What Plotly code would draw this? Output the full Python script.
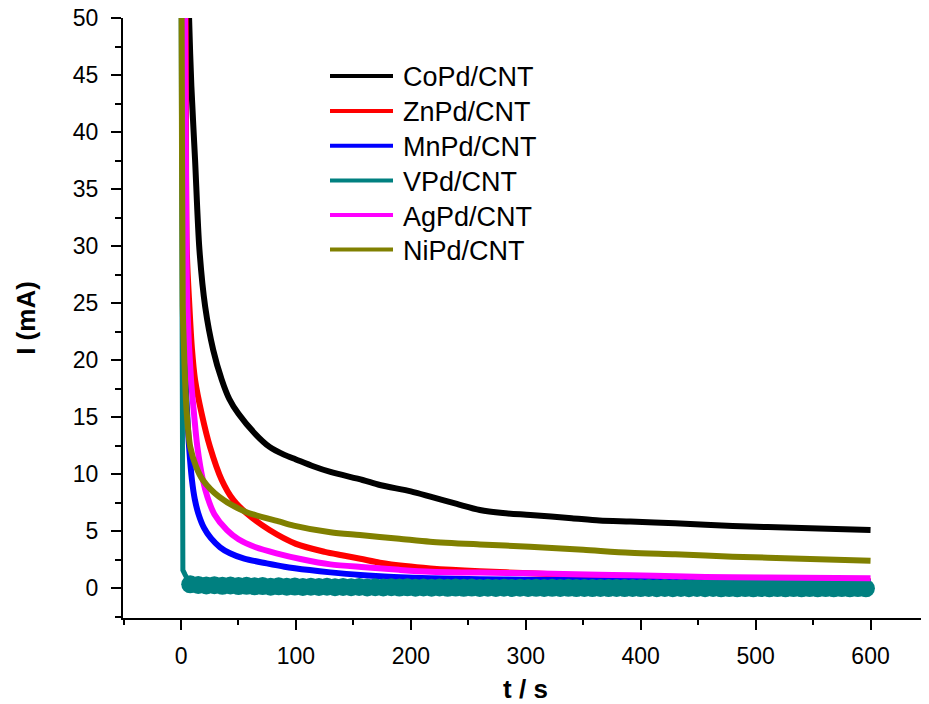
import plotly.graph_objects as go

# ---- data ----
series_names = ["CoPd/CNT", "ZnPd/CNT", "MnPd/CNT", "VPd/CNT", "AgPd/CNT", "NiPd/CNT"]
series_colors = ["#000000", "#FF0000", "#0000FF", "#008080", "#FF00FF", "#808000"]

copd_t = [6, 7, 9, 12.2, 16, 21, 28, 35.4, 42, 50, 64, 77, 90, 100, 115, 130, 158, 173, 200, 217, 240, 260, 280, 304, 340, 364, 391, 430, 480, 540, 600]
copd_i = [55, 50, 44, 37.6, 29.7, 24.7, 20.9, 18.3, 16.6, 15.3, 13.6, 12.4, 11.7, 11.3, 10.7, 10.2, 9.5, 9.06, 8.5, 8.04, 7.4, 6.87, 6.6, 6.43, 6.15, 5.95, 5.85, 5.7, 5.46, 5.3, 5.11]

znpd_t = [3, 4, 5, 7.3, 9.5, 12.2, 18, 25.2, 35.4, 45.5, 57, 77, 100, 125, 140, 156, 173, 195, 217, 260, 304, 364, 391, 430, 480, 540, 600]
znpd_i = [55, 50, 29.7, 24.7, 21.0, 18.3, 15.3, 12.4, 9.5, 7.75, 6.58, 5.11, 3.9, 3.2, 2.9, 2.6, 2.25, 1.95, 1.75, 1.5, 1.32, 1.08, 1.0, 0.92, 0.82, 0.73, 0.65]

mnpd_t = [2, 3, 3.5, 4, 5.5, 7, 9.5, 12, 15, 20, 26, 34, 42.6, 55, 74.6, 90, 112, 130, 156, 185, 217, 260, 300, 350, 400, 470, 540, 600]
mnpd_i = [55, 50, 25, 18.3, 15.0, 12.4, 9.5, 7.8, 6.58, 5.3, 4.4, 3.6, 3.07, 2.6, 2.19, 1.9, 1.6, 1.4, 1.17, 1.0, 0.88, 0.8, 0.75, 0.7, 0.65, 0.6, 0.57, 0.55]

vpd_head_t = [0, 0.6, 1.1, 1.6, 3.5, 6]
vpd_head_i = [55, 20, 5, 1.6, 1.2, 0.75]
vpd_tail_i = [0.35, 0.3, 0.25, 0.28, 0.22, 0.25, 0.2, 0.22, 0.18, 0.2, 0.15, 0.18, 0.14, 0.16, 0.12, 0.15,
              0.12, 0.14, 0.1, 0.12, 0.1, 0.12, 0.08, 0.1, 0.08, 0.1, 0.07, 0.09, 0.06, 0.08, 0.06, 0.08,
              0.05, 0.07, 0.05, 0.07, 0.04, 0.06, 0.04, 0.06, 0.04, 0.06, 0.03, 0.05, 0.03, 0.05, 0.03, 0.05,
              0.02, 0.04, 0.02, 0.04, 0.02, 0.04, 0.02, 0.04, 0.02, 0.03, 0.01, 0.03, 0.01, 0.03, 0.01, 0.03,
              0.01, 0.03, 0.0, 0.02, 0.0, 0.02, 0.0, 0.02, 0.0, 0.02, 0.0, 0.02, 0.0, 0.02, 0.0, 0.02,
              0.0, 0.02, 0.0, 0.02, 0.0]
vpd_t = vpd_head_t + [8 + 7 * k for k in range(len(vpd_tail_i))]
vpd_i = vpd_head_i + vpd_tail_i

agpd_t = [2.5, 3.5, 4.5, 5.5, 8.7, 11.3, 14.2, 19, 23, 29, 40, 50, 65, 83, 105, 130, 160, 190, 217, 260, 304, 364, 391, 430, 480, 540, 600]
agpd_i = [55, 50, 33, 24.7, 18.3, 15.3, 12.4, 9.5, 8.0, 6.5, 5.1, 4.3, 3.6, 3.07, 2.55, 2.1, 1.85, 1.62, 1.46, 1.38, 1.32, 1.2, 1.15, 1.05, 0.97, 0.92, 0.88]

nipd_t = [0, 0.5, 1.5, 2.6, 3.5, 5, 8, 13, 19, 33, 56, 86, 98, 130, 155.7, 190, 216.6, 260, 303.6, 350, 390.6, 430, 480, 540, 600]
nipd_i = [55, 50, 24.7, 20.9, 18.3, 15.3, 12.4, 10.7, 9.5, 8.04, 6.72, 5.84, 5.5, 4.91, 4.67, 4.35, 4.09, 3.85, 3.65, 3.38, 3.12, 2.98, 2.78, 2.6, 2.42]

x_range = [-50.5, 650]
y_range = [-2.6, 50]

FONT = "Arial, Liberation Sans, sans-serif"

fig = go.Figure()

all_t = [copd_t, znpd_t, mnpd_t, vpd_t, agpd_t, nipd_t]
all_i = [copd_i, znpd_i, mnpd_i, vpd_i, agpd_i, nipd_i]

for name, col, tt, ii in zip(series_names, series_colors, all_t, all_i):
    if name == "VPd/CNT":
        sizes = [0] * len(vpd_head_t) + [18] * len(vpd_tail_i)
        fig.add_trace(go.Scatter(x=tt, y=ii, name=name, mode="lines+markers",
                                 line=dict(color=col, width=5),
                                 marker=dict(color=col, size=sizes, opacity=1, line=dict(width=0)),
                                 cliponaxis=True, showlegend=False))
    else:
        fig.add_trace(go.Scatter(x=tt, y=ii, name=name, mode="lines",
                                 line=dict(color=col, width=6, shape="spline", smoothing=0.8),
                                 showlegend=False))

# The page body has an 8 px margin, so the figure is drawn 8 px in from the window corner.
OFF = 8
FIG_W, FIG_H = 929 - OFF, 704 - OFF
# plot-area edges in window pixels (from the reference)
L, R, T, B = 123, 928, 18, 618
W, H = R - L, B - T

# manual legend (to match the reference's long swatches)
legend_rows_px = [76, 111, 145.7, 180.5, 215, 249.5]
for name, col, py in zip(series_names, series_colors, legend_rows_px):
    yp = (B - py) / H
    fig.add_shape(type="line", xref="paper", yref="paper",
                  x0=(330 - L) / W, x1=(393 - L) / W, y0=yp, y1=yp,
                  line=dict(color=col, width=4))
    fig.add_annotation(xref="paper", yref="paper", x=(401 - L) / W, y=yp - 1.5 / H,
                       text=name, showarrow=False, xanchor="left", yanchor="middle",
                       font=dict(family=FONT, size=27, color="#000000"))

axis_common = dict(showline=True, linecolor="#000000", linewidth=2,
                   ticks="outside", ticklen=10, tickwidth=2, tickcolor="#000000",
                   showgrid=False, zeroline=False, mirror=False, automargin=False,
                   ticklabeloverflow="allow",
                   tickfont=dict(family=FONT, size=23, color="#000000"))

fig.update_layout(
    width=FIG_W, height=FIG_H,
    margin=dict(l=L - OFF, r=FIG_W - (R - OFF), t=T - OFF, b=FIG_H - (B - OFF)),
    paper_bgcolor="white", plot_bgcolor="white",
    xaxis=dict(range=x_range, tickmode="linear", tick0=0, dtick=100,
               minor=dict(ticks="outside", ticklen=5, tickwidth=2, tickcolor="#000000", dtick=50, tick0=0),
               title=dict(text="<b>t / s</b>", font=dict(family=FONT, size=26, color="#000000"), standoff=14),
               ticklabelstandoff=6,
               **axis_common),
    yaxis=dict(range=y_range, tickmode="linear", tick0=0, dtick=5,
               minor=dict(ticks="outside", ticklen=6, tickwidth=2, tickcolor="#000000", dtick=2.5, tick0=0),
               title=dict(text="<b>I (mA)</b>", font=dict(family=FONT, size=26, color="#000000"), standoff=30),
               ticklabelstandoff=8,
               **axis_common),
    showlegend=False,
)

fig.write_html("out.html")
